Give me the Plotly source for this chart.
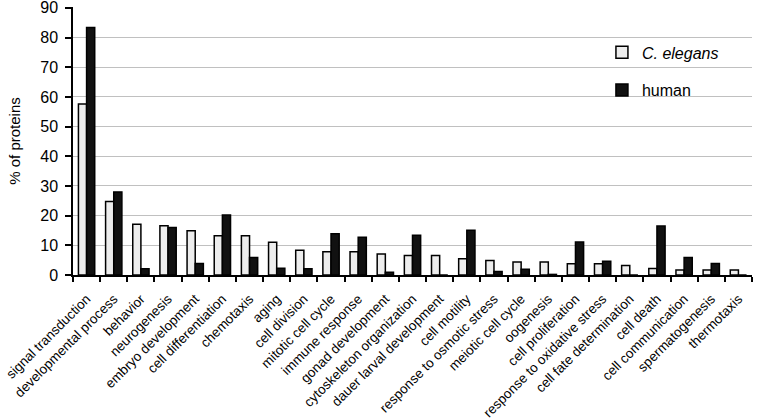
import plotly.graph_objects as go

categories = [
    "signal transduction", "developmental process", "behavior", "neurogenesis",
    "embryo development", "cell differentiation", "chemotaxis", "aging",
    "cell division", "mitotic cell cycle", "immune response", "gonad development",
    "cytoskeleton organization", "dauer larval development", "cell motility",
    "response to osmotic stress", "meiotic cell cycle", "oogenesis",
    "cell proliferation", "response to oxidative stress", "cell fate determination",
    "cell death", "cell communication", "spermatogenesis", "thermotaxis",
]
c_elegans = [57.6, 24.8, 17.1, 16.6, 14.9, 13.2, 13.2, 11.0, 8.3, 7.8, 7.8, 7.1,
             6.6, 6.6, 5.5, 4.9, 4.4, 4.4, 3.8, 3.8, 3.2, 2.2, 1.7, 1.7, 1.7]
human = [83.4, 28.0, 2.1, 16.0, 3.9, 20.2, 5.9, 2.3, 2.1, 13.9, 12.7, 0.9,
         13.4, 0.0, 15.1, 1.2, 1.9, 0.2, 11.1, 4.6, 0.0, 16.5, 5.9, 3.9, 0.0]

fig = go.Figure()
fig.add_trace(go.Bar(x=categories, y=c_elegans, name="<i>C. elegans</i>",
                     legendgroup="a",
                     marker=dict(color="#ededed", line=dict(color="black", width=1.5))))
fig.add_trace(go.Bar(x=categories, y=human, name="human", legendgroup="b",
                     marker=dict(color="#111111", line=dict(color="black", width=1.5))))

fig.update_layout(
    width=760, height=420,
    margin=dict(l=73, r=8, t=7, b=145),
    paper_bgcolor="white", plot_bgcolor="white",
    font=dict(family="Liberation Sans, Arial", color="black"),
    barmode="group", bargap=0.4, bargroupgap=0,
    legend=dict(x=0.779, y=0.894, xanchor="left", yanchor="top",
                font=dict(size=16), tracegroupgap=14,
                bgcolor="rgba(0,0,0,0)"),
    xaxis=dict(showline=True, linecolor="black", linewidth=1.5,
               ticks="outside", tickson="boundaries", ticklen=5,
               tickcolor="black", tickwidth=1.5, tickangle=-45,
               ticklabelstandoff=9,
               tickfont=dict(size=13.5), automargin=False),
    yaxis=dict(range=[0, 90.3], tickvals=list(range(0, 100, 10)),
               showline=True, linecolor="black",
               linewidth=1.5, ticks="outside", ticklen=6, tickcolor="black",
               tickwidth=1.5, showgrid=True, gridcolor="#c0c0c0", gridwidth=1,
               tickfont=dict(size=16), zeroline=False, automargin=False,
               ticklabeloverflow="allow", ticklabelstandoff=4,
               title=dict(text="% of proteins", font=dict(size=15), standoff=16)),
)

# the page's default body margin would shift the chart by 8px
fig.write_html("out.html", config={"displayModeBar": False},
               post_script="document.body.style.margin='0';")
